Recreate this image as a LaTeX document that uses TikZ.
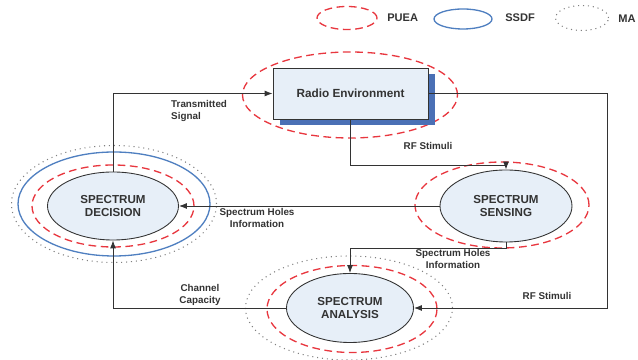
\documentclass[tikz,border=0pt]{standalone}
\usepackage{fontspec}
\setmainfont{Liberation Sans}
\usetikzlibrary{shapes.geometric,arrows.meta,shadows}

\definecolor{pueared}{HTML}{E8373F}
\definecolor{ssdfblue}{HTML}{4F7FC0}
\definecolor{cellfill}{HTML}{E7EFF8}
\definecolor{shadowblue}{HTML}{4A70B5}
\definecolor{linegray}{HTML}{333333}

\tikzset{
  cell/.style={ellipse, draw=linegray, line width=0.5pt, fill=cellfill, align=center,
    inner sep=1pt, text=linegray, font=\fontsize{6.6}{7.8}\selectfont\bfseries},
  envbox/.style={rectangle, draw=linegray, line width=0.5pt, fill=cellfill, text=linegray,
    minimum width=3.1cm, minimum height=1.02cm, font=\fontsize{6.7}{8}\selectfont\bfseries,
    general shadow={fill=shadowblue, shadow xshift=0.14cm, shadow yshift=-0.12cm}},
  puea/.style={ellipse, draw=pueared, line width=0.75pt, dash pattern=on 4.4pt off 2.6pt, inner sep=0pt},
  ssdf/.style={ellipse, draw=ssdfblue, line width=0.75pt, inner sep=0pt},
  ma/.style={ellipse, draw=gray, line width=0.6pt, dash pattern=on 0.6pt off 2.2pt, inner sep=0pt},
  flow/.style={draw=linegray, line width=0.5pt, -{Latex[length=0.16cm,width=0.12cm]}},
  lbl/.style={text=linegray, align=center, font=\fontsize{5.6}{6.6}\selectfont\bfseries},
  key/.style={anchor=west, inner sep=0pt, text=linegray, font=\fontsize{6.3}{7.5}\selectfont\bfseries},
}

\begin{document}
\begin{tikzpicture}
\useasboundingbox (0,0) rectangle (12.76,7.2);

% Marking the legend
\node [puea, minimum width=1.2cm, minimum height=0.46cm] (keypuea) at (6.94,6.84) {};%
\node [key] (keypueatext) at (7.74,6.84) {PUEA};%
\node [ssdf, minimum width=1.16cm, minimum height=0.40cm] (keyssdf) at (9.26,6.82) {};%
\node [key] (keyssdftext) at (10.10,6.84) {SSDF};%
\node [ma, minimum width=1.06cm, minimum height=0.50cm] (keyma) at (11.64,6.84) {};%
\node [key] (keymatext) at (12.36,6.82) {MA};%

% Marking rings of radio environment
\node [puea, minimum width=4.3cm, minimum height=1.72cm] (envpuea) at (7.0,5.3) {};%

% Marking rings of spectrum decision
\node [ma, minimum width=4.1cm, minimum height=2.34cm] (decma) at (2.28,3.12) {};%
\node [ssdf, minimum width=3.84cm, minimum height=2.08cm] (decssdf) at (2.28,3.12) {};%
\node [puea, minimum width=3.24cm, minimum height=1.64cm] (decpuea) at (2.26,3.08) {};%

% Marking rings of spectrum sensing
\node [puea, minimum width=3.48cm, minimum height=1.72cm] (senspuea) at (10.04,3.1) {};%

% Marking rings of spectrum analysis
\node [ma, minimum width=4.14cm, minimum height=2.08cm] (anama) at (6.98,1.04) {};%
\node [puea, minimum width=3.4cm, minimum height=1.74cm] (anapuea) at (7.04,1.02) {};%

% Marking the blocks
\node [envbox] (env) at (7.01,5.33) {Radio Environment};%
\node [cell, minimum width=2.62cm, minimum height=1.36cm] (dec) at (2.26,3.08) {SPECTRUM\\DECISION};%
\node [cell, minimum width=2.64cm, minimum height=1.44cm] (sens) at (10.12,3.08) {SPECTRUM\\SENSING};%
\node [cell, minimum width=2.54cm, minimum height=1.38cm] (ana) at (7.0,1.04) {SPECTRUM\\ANALYSIS};%

% Drawing connector decision -- environment
\draw [flow] (dec.north) |- (env.west);%
\node [lbl, anchor=west, align=left] (txsignal) at (3.3,4.98) {Transmitted\\Signal};%

% Drawing connector environment -- sensing
\draw [flow] (env.south) -- ++(0,-0.92) -| (sens.north);%
\node [lbl] (rfsens) at (8.56,4.28) {RF Stimuli};%

% Drawing connector environment -- analysis
\coordinate (rside) at (12.14,0);
\draw [flow] (env.east) -| (rside |- ana.east) -- (ana.east);%
\node [lbl] (rfana) at (10.94,1.28) {RF Stimuli};%

% Drawing connector sensing -- decision
\draw [flow] (sens.west) -- (dec.east);%
\node [lbl] (holesdec) at (5.14,2.84) {Spectrum Holes\\Information};%

% Drawing connector sensing -- analysis
\draw [flow] (sens.south) -- ++(0,-0.12) -| (ana.north);%
\node [lbl] (holesana) at (9.06,2.02) {Spectrum Holes\\Information};%

% Drawing connector analysis -- decision
\draw [flow] (ana.west) -| (dec.south);%
\node [lbl] (capacity) at (4.0,1.3) {Channel\\Capacity};%
\end{tikzpicture}
\end{document}
